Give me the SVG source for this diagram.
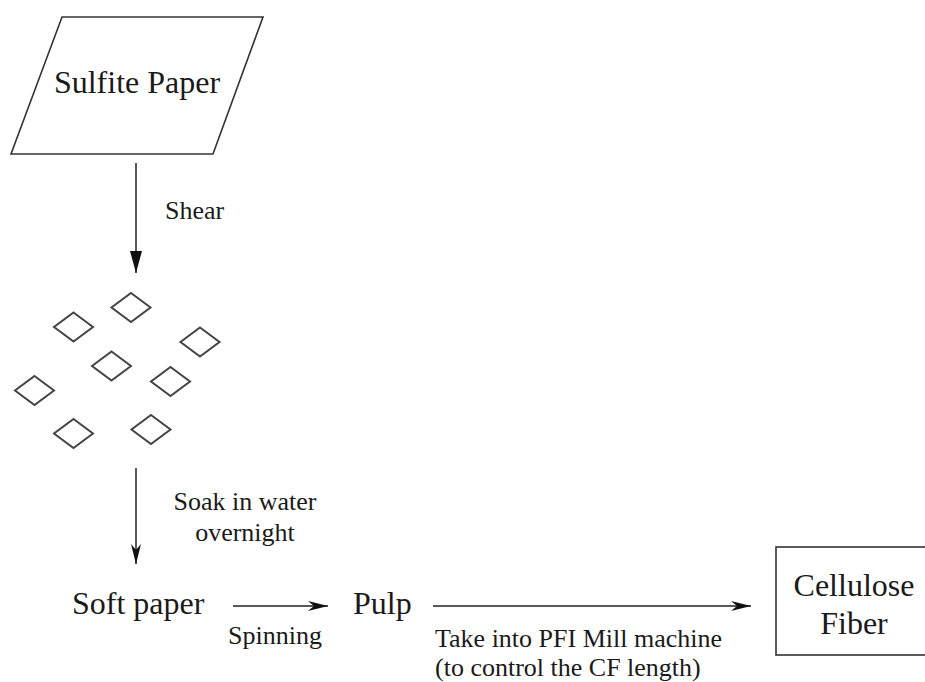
<svg xmlns="http://www.w3.org/2000/svg" width="925" height="682" viewBox="0 0 925 682">
  <style>
    .node { font-family: "Liberation Serif", "Times New Roman", serif; font-size: 32px; fill: #1a1a1a; }
    .label { font-family: "Liberation Serif", "Times New Roman", serif; font-size: 26px; fill: #1a1a1a; }
    .shape { fill: #ffffff; stroke: #333333; stroke-width: 1.6; }
    .piece { fill: none; stroke: #444444; stroke-width: 2; }
    .edge { fill: none; stroke: #222222; stroke-width: 1.5; }
  </style>
  <defs>
    <marker id="tri" markerUnits="userSpaceOnUse" markerWidth="22" markerHeight="14" viewBox="0 0 22 14" refX="22" refY="7" orient="auto">
      <path d="M0,1 L22,7 L0,13 Z" fill="#111111"/>
    </marker>
    <marker id="barb" markerUnits="userSpaceOnUse" markerWidth="20" markerHeight="12" viewBox="0 0 20 12" refX="20" refY="6" orient="auto">
      <path d="M0,1 L20,6 L0,11 L6,6 Z" fill="#111111"/>
    </marker>
    <path id="dia" class="piece" d="M0,-14.5 L19.5,0 L0,14.5 L-19.5,0 Z"/>
  </defs>
  <rect width="925" height="682" fill="#ffffff"/>

  <g id="sulfite-paper">
    <polygon class="shape" points="62,17 263,17 213,154 11,154"/>
    <text class="node" x="137" y="93" text-anchor="middle">Sulfite Paper</text>
  </g>

  <g id="paper-pieces">
    <use href="#dia" x="131" y="307.5"/>
    <use href="#dia" x="73.5" y="327"/>
    <use href="#dia" x="200" y="342"/>
    <use href="#dia" x="111.5" y="366"/>
    <use href="#dia" x="170.5" y="381.5"/>
    <use href="#dia" x="34.5" y="390.5"/>
    <use href="#dia" x="73.5" y="433.5"/>
    <use href="#dia" x="151" y="429.5"/>
  </g>

  <g id="soft-paper">
    <text class="node" x="72" y="614">Soft paper</text>
  </g>

  <g id="pulp">
    <text class="node" x="353" y="614">Pulp</text>
  </g>

  <g id="cellulose-fiber">
    <rect class="shape" x="776" y="547" width="160" height="108"/>
    <text class="node" x="854" y="596" text-anchor="middle">Cellulose</text>
    <text class="node" x="854" y="634" text-anchor="middle">Fiber</text>
  </g>

  <g id="connectors">
    <line class="edge" x1="136" y1="163" x2="136" y2="273" marker-end="url(#tri)"/>
    <line class="edge" x1="136" y1="468" x2="136" y2="564" marker-end="url(#barb)"/>
    <line class="edge" x1="233" y1="606" x2="328" y2="606" marker-end="url(#barb)"/>
    <line class="edge" x1="433" y1="606" x2="751" y2="606" marker-end="url(#barb)"/>
  </g>

  <g id="edge-labels">
    <text class="label" x="165" y="219">Shear</text>
    <text class="label" x="245" y="510" text-anchor="middle">Soak in water</text>
    <text class="label" x="245" y="541" text-anchor="middle">overnight</text>
    <text class="label" x="275" y="644" text-anchor="middle">Spinning</text>
    <text class="label" x="435" y="647">Take into PFI Mill machine</text>
    <text class="label" x="435" y="676">(to control the CF length)</text>
  </g>
</svg>
